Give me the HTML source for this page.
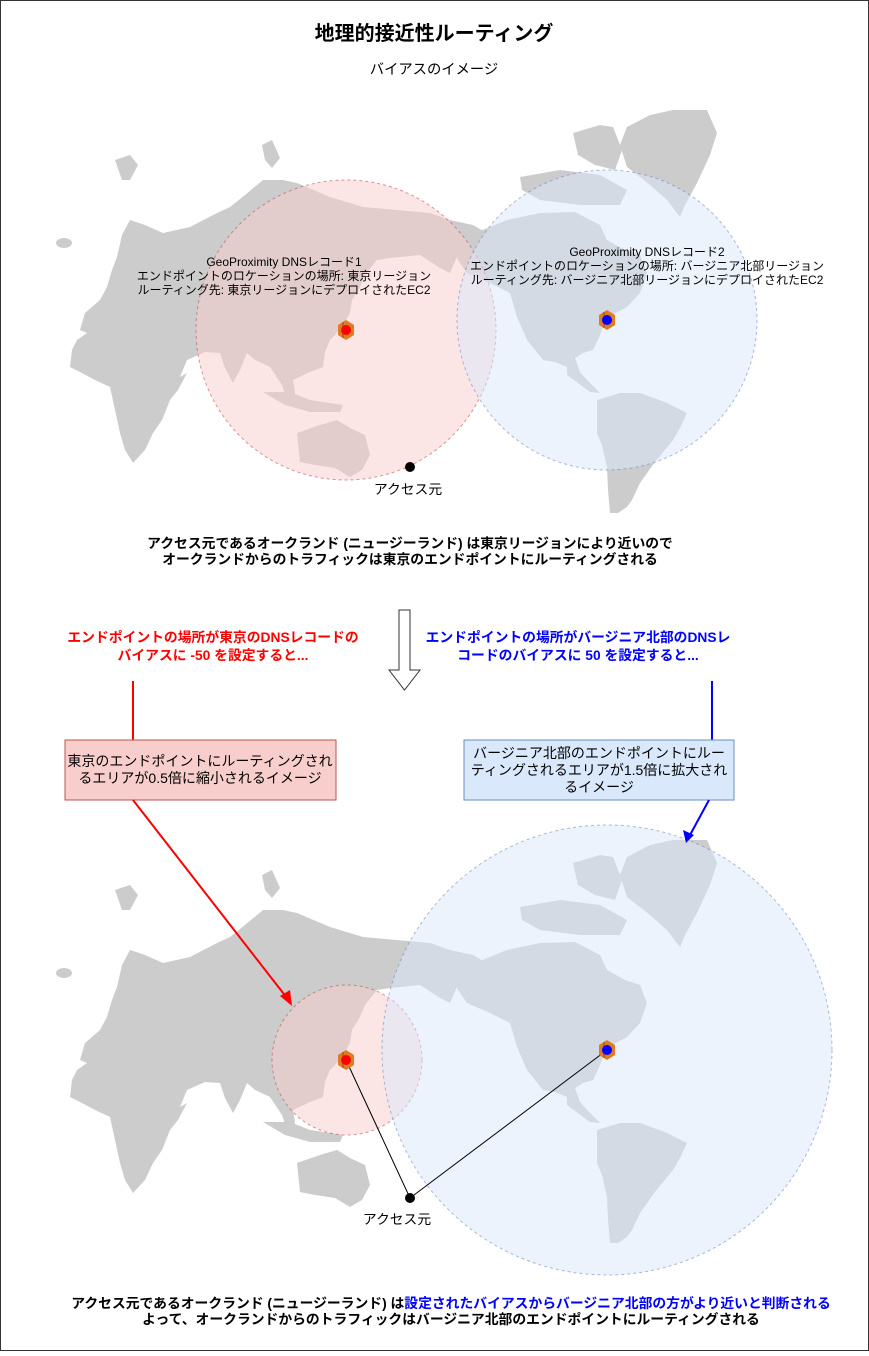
<!DOCTYPE html>
<html><head><meta charset="utf-8"><style>
body{margin:0;background:#fff}
svg text{font-family:"Liberation Sans","Noto Sans CJK JP",sans-serif}
</style></head><body>
<svg width="869" height="1351" viewBox="0 0 869 1351" xmlns="http://www.w3.org/2000/svg">
<defs>
<g id="map" fill="#cccccc">
<path d="M80,330 L85,313 L100,300 L107,287 L112,270 L117,257 L122,235 L130,220 L145,225 L163,233 L190,227 L217,213 L230,207 L245,195 L263,180 L283,180 L297,183 L330,197 L363,207 L397,210 L430,213 L450,220 L473,225 L485,232 L473,240 L460,250 L450,273 L440,268 L420,255 L390,258 L377,260 L365,275 L360,287 L352,300 L350,313 L345,322 L335,335 L330,340 L325,352 L323,367 L310,372 L293,380 L295,392 L293,400 L287,400 L282,385 L270,367 L255,360 L247,353 L240,370 L233,383 L225,368 L220,353 L205,352 L187,360 L180,377 L187,373 L178,390 L170,400 L162,420 L153,433 L145,450 L133,463 L125,450 L120,433 L115,410 L110,387 L95,380 L80,372 L70,367 L72,350 L77,340 L87,333 Z"/>
<path d="M263,392 L290,392 L310,400 L343,405 L340,412 L310,412 L285,405 Z"/>
<ellipse cx="64" cy="243" rx="8" ry="5"/>
<path d="M115,160 L130,155 L138,165 L130,180 L122,180 Z"/>
<path d="M262,145 L272,140 L280,158 L272,168 L265,160 Z"/>
<path d="M297,433 L320,425 L337,420 L350,428 L365,435 L370,455 L362,470 L350,477 L335,468 L315,465 L300,462 Z"/>
<path d="M627,127 L650,115 L673,110 L707,110 L717,133 L710,155 L697,183 L685,205 L680,217 L667,200 L650,185 L627,167 L620,145 Z"/>
<path d="M573,133 L600,125 L613,127 L622,150 L615,170 L595,165 L578,155 Z"/>
<path d="M520,177 L560,170 L600,175 L627,190 L620,205 L580,205 L540,200 L522,190 Z"/>
<path d="M490,227 L507,220 L540,213 L575,212 L600,225 L607,240 L625,250 L640,255 L647,273 L640,293 L627,307 L612,315 L607,317 L600,335 L593,350 L583,353 L575,358 L580,372 L590,383 L600,393 L590,392 L567,375 L567,367 L555,362 L543,360 L527,340 L517,317 L510,293 L490,283 L467,273 L458,260 L450,243 L470,235 Z"/>
<path d="M597,400 L620,393 L640,393 L665,402 L687,413 L680,428 L673,440 L655,462 L640,483 L632,500 L627,507 L618,513 L610,513 L608,490 L607,467 L602,445 L597,433 Z"/>
</g>
<g id="ec2">
<polygon points="0,-10 8,-5 8,5 0,10 -8,5 -8,-5" fill="#e07b24"/>
<line x1="-3" y1="-8" x2="-3" y2="8" stroke="#b85c10" stroke-width="1.5"/>
</g>
</defs>
<rect x="0.5" y="0.5" width="868" height="1350" fill="#fff" stroke="#333"/>
<text x="434" y="40" text-anchor="middle" font-size="20" font-weight="bold">地理的接近性ルーティング</text>
<text x="434" y="74" text-anchor="middle" font-size="14.3">バイアスのイメージ</text>

<use href="#map"/>
<circle cx="346" cy="330" r="150" fill="#f8cecc" fill-opacity="0.5" stroke="#b85450" stroke-opacity="0.6" stroke-dasharray="3 3"/>
<circle cx="607" cy="320" r="150" fill="#dae8fc" fill-opacity="0.5" stroke="#6c8ebf" stroke-opacity="0.6" stroke-dasharray="3 3"/>
<use href="#ec2" x="346" y="330"/><circle cx="346" cy="330" r="5" fill="#f00"/>
<use href="#ec2" x="607" y="320"/><circle cx="607" cy="320" r="5" fill="#00f"/>
<circle cx="410" cy="467" r="5" fill="#000"/>
<text x="408" y="494" text-anchor="middle" font-size="13.8">アクセス元</text>
<g font-size="12" text-anchor="middle">
<text x="284" y="266">GeoProximity DNSレコード1</text>
<text x="284" y="280">エンドポイントのロケーションの場所: 東京リージョン</text>
<text x="284" y="294">ルーティング先: 東京リージョンにデプロイされたEC2</text>
<text x="647" y="256">GeoProximity DNSレコード2</text>
<text x="647" y="270">エンドポイントのロケーションの場所: バージニア北部リージョン</text>
<text x="647" y="284">ルーティング先: バージニア北部リージョンにデプロイされたEC2</text>
</g>
<g font-size="13.8" font-weight="bold" text-anchor="middle">
<text x="410" y="548">アクセス元であるオークランド (ニュージーランド) は東京リージョンにより近いので</text>
<text x="410" y="564">オークランドからのトラフィックは東京のエンドポイントにルーティングされる</text>
<text x="213" y="642" fill="#f00">エンドポイントの場所が東京のDNSレコードの</text>
<text x="213" y="660" fill="#f00">バイアスに -50 を設定すると...</text>
<text x="578" y="642" fill="#00f">エンドポイントの場所がバージニア北部のDNSレ</text>
<text x="578" y="660" fill="#00f">コードのバイアスに 50 を設定すると...</text>
</g>
<polygon points="399,610 410,610 410,670 420,670 404.5,690 389,670 399,670" fill="#fff" stroke="#333"/>

<line x1="133" y1="681" x2="133" y2="740" stroke="#f00" stroke-width="2"/>
<rect x="65" y="740" width="271" height="60" fill="#f8cecc" stroke="#b85450"/>
<text x="200" y="766" text-anchor="middle" font-size="14">東京のエンドポイントにルーティングされ</text>
<text x="200" y="783" text-anchor="middle" font-size="14">るエリアが0.5倍に縮小されるイメージ</text>
<line x1="712" y1="681" x2="712" y2="740" stroke="#00f" stroke-width="2"/>
<rect x="464" y="740" width="270" height="60" fill="#dae8fc" stroke="#6c8ebf"/>
<g font-size="14" text-anchor="middle">
<text x="599" y="758">バージニア北部のエンドポイントにルー</text>
<text x="599" y="775">ティングされるエリアが1.5倍に拡大され</text>
<text x="599" y="792">るイメージ</text>
</g>

<use href="#map" y="730"/>
<circle cx="347" cy="1060" r="75" fill="#f8cecc" fill-opacity="0.5" stroke="#b85450" stroke-opacity="0.6" stroke-dasharray="3 3"/>
<circle cx="607" cy="1050" r="225" fill="#dae8fc" fill-opacity="0.5" stroke="#6c8ebf" stroke-opacity="0.6" stroke-dasharray="3 3"/>
<line x1="133" y1="800" x2="287" y2="998" stroke="#f00" stroke-width="2"/>
<polygon points="292,1006 280,996 290,990" fill="#f00"/>
<line x1="709" y1="800" x2="690" y2="835" stroke="#00f" stroke-width="2"/>
<polygon points="686,843 683,830 694,835" fill="#00f"/>
<line x1="346" y1="1060" x2="410" y2="1198" stroke="#000"/>
<line x1="607" y1="1050" x2="410" y2="1198" stroke="#000"/>
<use href="#ec2" x="346" y="1060"/><circle cx="346" cy="1060" r="5" fill="#f00"/>
<use href="#ec2" x="607" y="1050"/><circle cx="607" cy="1050" r="5" fill="#00f"/>
<circle cx="410" cy="1198" r="5" fill="#000"/>
<text x="397" y="1224" text-anchor="middle" font-size="13.8">アクセス元</text>

<g font-size="13.8" font-weight="bold" text-anchor="middle">
<text x="451" y="1308">アクセス元であるオークランド (ニュージーランド) は<tspan fill="#00f">設定されたバイアスからバージニア北部の方がより近いと判断される</tspan></text>
<text x="451" y="1324">よって、オークランドからのトラフィックはバージニア北部のエンドポイントにルーティングされる</text>
</g>
</svg>
</body></html>
